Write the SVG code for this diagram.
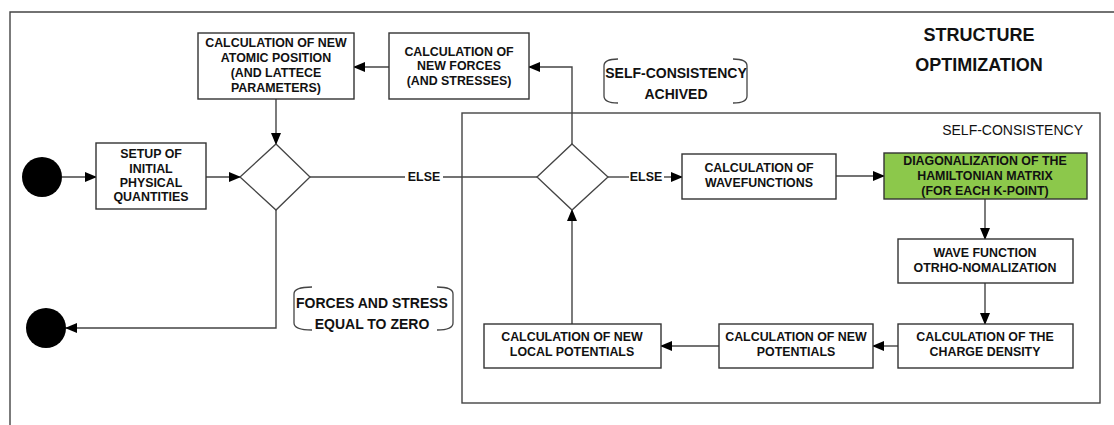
<svg xmlns="http://www.w3.org/2000/svg" width="1114" height="425" viewBox="0 0 1114 425">
<style>
.box{fill:#fff;stroke:#333;stroke-width:1.4}
.green{fill:#8cc84b;stroke:#333;stroke-width:1.4}
.dia{fill:#fff;stroke:#444;stroke-width:1.3}
.frame{fill:none;stroke:#444;stroke-width:1.4}
.c{fill:none;stroke:#444;stroke-width:1.4}
.ca{fill:none;stroke:#444;stroke-width:1.4;marker-end:url(#ah)}
.br{fill:none;stroke:#444;stroke-width:1.3}
text{font-family:"Liberation Sans",Arial,sans-serif;font-weight:bold;fill:#111}
.t{font-size:12.4px;text-anchor:middle}
.lbl{font-size:14px;text-anchor:middle}
.title{font-size:18px;text-anchor:middle}
</style>
<defs>
<marker id="ah" markerWidth="12" markerHeight="10" refX="11" refY="5" orient="auto" markerUnits="userSpaceOnUse">
<path d="M0,0 L12,5 L0,10 Z" fill="#000"/>
</marker>
</defs>
<rect width="1114" height="425" fill="#fff"/>
<g id="frames">
<path class="frame" d="M10,425 L10,12 L1114,12"/>
<rect class="frame" x="462" y="113" width="638" height="290"/>
<text x="1083" y="135" style="font-size:14px;font-weight:normal;text-anchor:end">SELF-CONSISTENCY</text>
<text class="title" x="979" y="41">STRUCTURE</text>
<text class="title" x="979" y="71">OPTIMIZATION</text>
</g>
<g id="connectors">
<line class="ca" x1="62" y1="177" x2="96" y2="177"/>
<line class="ca" x1="206" y1="177" x2="240" y2="177"/>
<line class="ca" x1="276" y1="99" x2="276" y2="144"/>
<line class="c" x1="310" y1="177" x2="405" y2="177"/>
<line class="c" x1="443" y1="177" x2="537" y2="177"/>
<text class="t" x="424" y="181">ELSE</text>
<line class="c" x1="608" y1="177" x2="629" y2="177"/>
<line class="ca" x1="664" y1="177" x2="682" y2="177"/>
<text class="t" x="646" y="181">ELSE</text>
<line class="ca" x1="836" y1="176" x2="884" y2="176"/>
<line class="ca" x1="985" y1="199" x2="985" y2="239"/>
<line class="ca" x1="985" y1="283" x2="985" y2="324"/>
<line class="ca" x1="898" y1="346" x2="873" y2="346"/>
<line class="ca" x1="719" y1="346" x2="661" y2="346"/>
<line class="ca" x1="572" y1="324" x2="572" y2="210"/>
<polyline class="ca" points="572,144 572,67 529,67"/>
<line class="ca" x1="389" y1="67" x2="354" y2="67"/>
<polyline class="ca" points="276,210 276,328 66,328"/>
</g>
<g id="start"><circle cx="42" cy="177" r="20" fill="#000"/></g>
<g id="end"><circle cx="46" cy="328" r="20" fill="#000"/></g>
<g id="setup">
<rect class="box" x="96" y="143" width="110" height="66"/>
<text class="t" x="151" y="158">SETUP OF</text>
<text class="t" x="151" y="173">INITIAL</text>
<text class="t" x="151" y="187">PHYSICAL</text>
<text class="t" x="151" y="201">QUANTITIES</text>
</g>
<g id="atomic">
<rect class="box" x="198" y="33" width="156" height="66"/>
<text class="t" x="276" y="47">CALCULATION OF NEW</text>
<text class="t" x="276" y="62">ATOMIC POSITION</text>
<text class="t" x="276" y="77">(AND LATTECE</text>
<text class="t" x="276" y="92">PARAMETERS)</text>
</g>
<g id="forces">
<rect class="box" x="389" y="33" width="140" height="66"/>
<text class="t" x="459" y="56">CALCULATION OF</text>
<text class="t" x="459" y="70">NEW FORCES</text>
<text class="t" x="459" y="85">(AND STRESSES)</text>
</g>
<g id="decision1"><polygon class="dia" points="276,144 310,177 276,210 240,177"/></g>
<g id="decision2"><polygon class="dia" points="572,144 608,177 572,210 537,177"/></g>
<g id="guard-sc">
<path class="br" d="M618,59 Q604,59 604,66 L604,96 Q604,103 618,103"/>
<path class="br" d="M733,59 Q747,59 747,66 L747,96 Q747,103 733,103"/>
<text class="lbl" x="676" y="78">SELF-CONSISTENCY</text>
<text class="lbl" x="676" y="99">ACHIVED</text>
</g>
<g id="guard-fs">
<path class="br" d="M312,287 Q294,287 294,294 L294,323 Q294,330 312,330"/>
<path class="br" d="M437,287 Q453,287 453,294 L453,323 Q453,330 437,330"/>
<text class="lbl" x="372" y="308">FORCES AND STRESS</text>
<text class="lbl" x="372" y="329">EQUAL TO ZERO</text>
</g>
<g id="wavefunctions">
<rect class="box" x="682" y="154" width="154" height="45"/>
<text class="t" x="759" y="172">CALCULATION OF</text>
<text class="t" x="759" y="187">WAVEFUNCTIONS</text>
</g>
<g id="diagonalization">
<rect class="green" x="884" y="153" width="203" height="46"/>
<text class="t" x="985" y="165">DIAGONALIZATION OF THE</text>
<text class="t" x="985" y="180">HAMILTONIAN MATRIX</text>
<text class="t" x="985" y="195">(FOR EACH K-POINT)</text>
</g>
<g id="orthonorm">
<rect class="box" x="898" y="239" width="175" height="44"/>
<text class="t" x="985" y="257">WAVE FUNCTION</text>
<text class="t" x="985" y="272">OTRHO-NOMALIZATION</text>
</g>
<g id="charge">
<rect class="box" x="898" y="324" width="175" height="44"/>
<text class="t" x="985" y="341">CALCULATION OF THE</text>
<text class="t" x="985" y="356">CHARGE DENSITY</text>
</g>
<g id="potentials">
<rect class="box" x="719" y="324" width="154" height="44"/>
<text class="t" x="796" y="341">CALCULATION OF NEW</text>
<text class="t" x="796" y="356">POTENTIALS</text>
</g>
<g id="local">
<rect class="box" x="484" y="324" width="177" height="44"/>
<text class="t" x="572" y="341">CALCULATION OF NEW</text>
<text class="t" x="572" y="356">LOCAL POTENTIALS</text>
</g>
</svg>
